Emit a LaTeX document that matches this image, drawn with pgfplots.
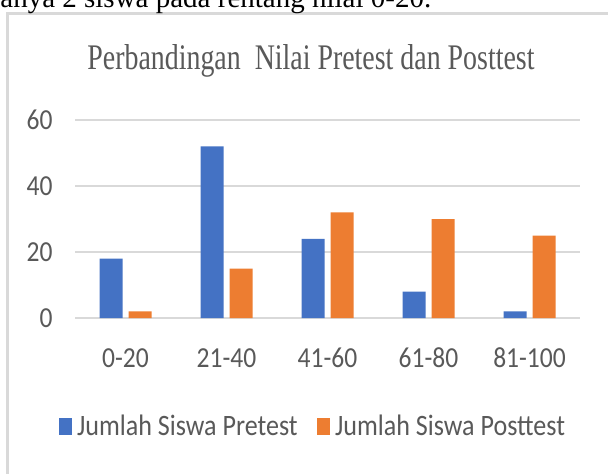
\documentclass[border=0pt]{standalone}
\usepackage{pgfplots}
\pgfplotsset{compat=1.18}
\usepackage{fontspec}
\setmainfont{Liberation Serif}
\newfontfamily\lab[FakeStretch=0.88]{Carlito}
\newfontfamily\ttl[FakeStretch=0.775]{Liberation Serif}
\definecolor{pre}{HTML}{4472C4}
\definecolor{post}{HTML}{ED7D31}
\definecolor{gridc}{HTML}{D9D9D9}
\definecolor{txt}{HTML}{595959}
\begin{document}
\begin{tikzpicture}[x=0.5pt,y=0.5pt]
\useasboundingbox (0,0) rectangle (608,473);
\clip (0,0) rectangle (608,473);
\fill[white] (0,0) rectangle (608,473);
\draw[gridc, line width=1.5pt] (7.5,-20) -- (7.5,460) -- (640,460);
\node[anchor=base west, inner sep=0pt, font=\fontsize{14.5pt}{16pt}\selectfont] at (0,466) {\llap{h}anya 2 siswa pada rentang nilai 0-20.};
\node[anchor=base west, inner sep=0pt, text=txt, font=\ttl\fontsize{18pt}{20pt}\selectfont] at (87,404) {Perbandingan\ \ Nilai Pretest dan Posttest};
\begin{axis}[
  at={(37.5pt,77.5pt)}, anchor=south west,
  width=252.5pt, height=99pt, scale only axis,
  xmin=-0.5, xmax=4.5, ymin=0, ymax=60,
  ybar, bar width=11.5pt,
  axis line style={draw=none},
  major tick length=0pt,
  ymajorgrids, grid style={gridc, line width=1pt},
  ytick={0,20,40,60},
  xtick={0,1,2,3,4},
  xticklabels={0-20,21-40,41-60,61-80,81-100},
  /pgf/number format/assume math mode=true,
  tick label style={text=txt, font=\lab\fontsize{14.5pt}{16pt}\selectfont},
  yticklabel style={anchor=east, inner sep=0pt, xshift=-11pt},
  xticklabel style={anchor=base, inner sep=0pt, yshift=-24.5pt},
  legend style={at={(-0.033,-0.548)}, anchor=west, draw=none, fill=none,
    inner sep=0pt, font=\lab\fontsize{14.8pt}{16pt}\selectfont, text=txt,
    legend columns=2,
    nodes={inner sep=1.5pt},
    /tikz/every odd column/.append style={column sep=1.2pt},
    /tikz/every even column/.append style={column sep=8pt}},
]
\addplot[fill=pre, draw=none, bar shift=-7.25pt,
  legend image code/.code={\fill[pre] (0pt,-4.25pt) rectangle (6.5pt,4.25pt);}]
  coordinates {(0,18) (1,52) (2,24) (3,8) (4,2)};
\addplot[fill=post, draw=none, bar shift=7.25pt,
  legend image code/.code={\fill[post] (0pt,-4.25pt) rectangle (6.5pt,4.25pt);}]
  coordinates {(0,2) (1,15) (2,32) (3,30) (4,25)};
\legend{Jumlah Siswa Pretest, Jumlah Siswa Posttest}
\end{axis}
\end{tikzpicture}
\end{document}
